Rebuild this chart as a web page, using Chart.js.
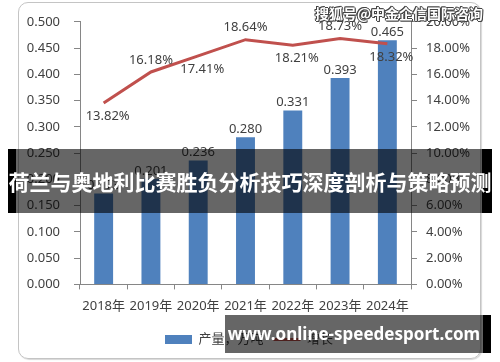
<!DOCTYPE html>
<html>
<head>
<meta charset="utf-8">
<script src="https://cdn.jsdelivr.net/npm/chart.js@4.4.0/dist/chart.umd.min.js"></script>
<style>
  html, body { margin: 0; padding: 0; background: #fff; }
  #wrap { position: relative; width: 500px; height: 362px; overflow: hidden; }
  #frame {
    position: absolute; left: 18px; top: 2px; width: 461px; height: 355px;
    border: 1px solid #c4c4c4; border-radius: 10px; box-shadow: 1px 1px 1px #d8d8d8;
  }
  canvas { position: absolute; left: 0; top: 0; }
  .shade { position: absolute; background: rgba(0, 0, 0, 0.6); }
  .black { position: absolute; background: #000; }
  .banner {
    position: absolute; color: #fff; font-weight: bold; white-space: nowrap;
  }
  #title {
    left: 0; width: 500px; top: 149px; height: 64px; line-height: 64px; text-align: center;
    font-family: 'Noto Sans CJK SC', sans-serif; font-size: 21px;
  }
  #site {
    left: 225px; width: 258px; top: 315px; height: 38px; line-height: 38px; text-align: center;
    font-family: 'Noto Sans', sans-serif; font-size: 17px;
  }
  #mark {
    left: 315px; top: 3px; font-family: 'Noto Sans CJK SC', sans-serif; font-size: 14px;
    text-shadow: 1px 0 0 #444, -1px 0 0 #444, 0 1px 0 #444, 0 -1px 0 #444, 1px 1px 0 #444, -1px -1px 0 #444;
  }
</style>
</head>
<body>
<div id="wrap">
  <div id="frame"></div>
  <canvas id="chart" width="500" height="362"></canvas>
  <div class="banner" id="mark">搜狐号@中金企信国际咨询</div>
  <div class="black" style="left:8px;top:149px;width:8px;height:64px"></div>
  <div class="shade" style="left:16px;top:149px;width:466px;height:64px"></div>
  <div class="black" style="left:482px;top:149px;width:10px;height:64px"></div>
  <div class="banner" id="title">荷兰与奥地利比赛胜负分析技巧深度剖析与策略预测</div>
  <div class="shade" style="left:225px;top:315px;width:258px;height:38px"></div>
  <div class="black" style="left:483px;top:315px;width:8px;height:38px"></div>
  <div class="banner" id="site">www.online-speedesport.com</div>
</div>
<script>
const years = ['2018年', '2019年', '2020年', '2021年', '2022年', '2023年', '2024年']
const output = [0.173, 0.201, 0.236, 0.280, 0.331, 0.393, 0.465]
const growth = [13.82, 16.18, 17.41, 18.64, 18.21, 18.73, 18.32]
const seriesNames = ['产量，万吨', '增长']

const BLUE = '#4f81bd'
const RED = '#c0504d'
const AXIS = '#868686'
const TEXT = '#404040'

Chart.defaults.font.family = "'Noto Sans', 'Noto Sans CJK SC', sans-serif"
Chart.defaults.font.size = 13
Chart.defaults.color = TEXT

// value labels: bars above, line points alternate below / above
const valueLabels = {
  id: 'valueLabels',
  afterDatasetsDraw(chart) {
    const ctx = chart.ctx
    ctx.save()
    ctx.font = "13px 'Noto Sans'"
    ctx.fillStyle = TEXT
    ctx.textAlign = 'center'
    ctx.textBaseline = 'middle'
    chart.getDatasetMeta(0).data.forEach((bar, i) => {
      ctx.fillText(output[i].toFixed(3), bar.x, bar.y - 8)
    })
    chart.getDatasetMeta(1).data.forEach((pt, i) => {
      const below = i % 2 === 0
      ctx.fillText(growth[i].toFixed(2) + '%', pt.x + (below ? 4 : 0), pt.y + (below ? 13 : -12))
    })
    ctx.restore()
  },
}

const axisLine = { display: true, color: AXIS, width: 1 }
const tickGrid = { drawOnChartArea: false, drawTicks: true, tickLength: 6, tickColor: AXIS }

new Chart(document.getElementById('chart'), {
  data: {
    labels: years,
    datasets: [
      {
        type: 'bar',
        label: seriesNames[0],
        data: output,
        backgroundColor: BLUE,
        yAxisID: 'y',
        categoryPercentage: 1,
        barPercentage: 0.4,
        order: 1,
      },
      {
        type: 'line',
        label: seriesNames[1],
        data: growth,
        borderColor: RED,
        backgroundColor: RED,
        borderWidth: 3,
        pointRadius: 0,
        tension: 0,
        yAxisID: 'y1',
        order: 0,
      },
    ],
  },
  options: {
    responsive: false,
    animation: false,
    events: [],
    layout: { padding: { left: 18, right: 20, top: 17, bottom: 6 } },
    plugins: {
      tooltip: { enabled: false },
      legend: {
        position: 'bottom',
        labels: {
          usePointStyle: true,
          pointStyleWidth: 27,
          boxHeight: 9,
          padding: 10,
          color: TEXT,
          font: { size: 13 },
          generateLabels(chart) {
            const items = Chart.defaults.plugins.legend.labels.generateLabels(chart)
            items.sort((a, b) => a.datasetIndex - b.datasetIndex)
            items.forEach((it) => {
              if (it.datasetIndex === 0) {
                it.pointStyle = 'rect'
                it.lineWidth = 0
              } else {
                it.pointStyle = 'line'
                it.lineWidth = 3
                it.strokeStyle = RED
              }
            })
            return items
          },
        },
      },
    },
    scales: {
      x: {
        border: axisLine,
        grid: { ...tickGrid, tickLength: 5 },
        ticks: { padding: 9, maxRotation: 0, color: TEXT },
      },
      y: {
        position: 'left',
        min: 0,
        max: 0.5,
        border: axisLine,
        grid: tickGrid,
        ticks: { stepSize: 0.05, padding: 14, color: TEXT, callback: (v) => v.toFixed(3) },
        afterFit: (s) => { s.width = 62 },
      },
      y1: {
        position: 'right',
        min: 0,
        max: 20,
        border: axisLine,
        grid: tickGrid,
        ticks: { stepSize: 2, padding: 9, color: TEXT, callback: (v) => v.toFixed(2) + '%' },
        afterFit: (s) => { s.width = 69 },
      },
    },
  },
  plugins: [valueLabels],
})
</script>
</body>
</html>
